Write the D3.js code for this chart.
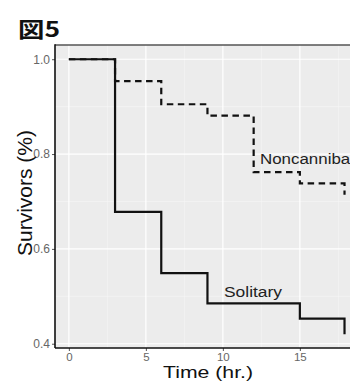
<!DOCTYPE html>
<html>
<head>
<meta charset="utf-8">
<script src="https://cdn.jsdelivr.net/npm/d3@7"></script>
<style>
  html, body { margin: 0; padding: 0; background: #fff; }
  svg { display: block; font-family: "Liberation Sans", Arial, sans-serif; }
</style>
</head>
<body>
<svg id="chart" width="350" height="383"></svg>
<script>
// survival curves (time in hr., fraction surviving)
const soloTimes = [0, 3, 6, 9, 15, 17.9];
const soloValues = [1.0, 0.678, 0.549, 0.485, 0.453, 0.42];
const nonTimes = [0, 3, 6, 9, 12, 15, 17.9];
const nonValues = [1.0, 0.954, 0.905, 0.881, 0.762, 0.738, 0.714];
const xTicks = [0, 5, 10, 15];
const xMinor = [2.5, 7.5, 12.5, 17.5];
const yTicks = [0.4, 0.6, 0.8, 1.0];
const yMinor = [0.5, 0.7, 0.9];

const svg = d3.select('#chart');
const pLeft = 55, pTop = 45, pRight = 363, pBottom = 348;

const x = d3.scaleLinear().domain([-0.9, 19.1]).range([pLeft, pRight]);
const y = d3.scaleLinear().domain([0.391, 1.030]).range([pBottom, pTop]);

// title
svg.append('text')
  .attr('x', 18).attr('y', 37)
  .attr('font-family', '"Noto Sans CJK JP", sans-serif')
  .attr('font-weight', 'bold')
  .attr('font-size', 21)
  .attr('fill', '#111')
  .attr('textLength', 42)
  .attr('lengthAdjust', 'spacingAndGlyphs')
  .text('図5');

// panel
svg.append('rect')
  .attr('x', pLeft).attr('y', pTop)
  .attr('width', pRight - pLeft).attr('height', pBottom - pTop)
  .attr('fill', '#ECECEC');

const grid = svg.append('g');
grid.selectAll('.xmin').data(xMinor).enter().append('line')
  .attr('x1', d => x(d)).attr('x2', d => x(d))
  .attr('y1', pTop).attr('y2', pBottom)
  .attr('stroke', '#f7f7f7').attr('stroke-width', 0.6);
grid.selectAll('.ymin').data(yMinor).enter().append('line')
  .attr('y1', d => y(d)).attr('y2', d => y(d))
  .attr('x1', pLeft).attr('x2', pRight)
  .attr('stroke', '#f7f7f7').attr('stroke-width', 0.6);
grid.selectAll('.xmaj').data(xTicks).enter().append('line')
  .attr('x1', d => x(d)).attr('x2', d => x(d))
  .attr('y1', pTop).attr('y2', pBottom)
  .attr('stroke', '#fff').attr('stroke-width', 1.2);
grid.selectAll('.ymaj').data(yTicks).enter().append('line')
  .attr('y1', d => y(d)).attr('y2', d => y(d))
  .attr('x1', pLeft).attr('x2', pRight)
  .attr('stroke', '#fff').attr('stroke-width', 1.2);

// curves
const line = d3.line()
  .x(d => x(d[0]))
  .y(d => y(d[1]))
  .curve(d3.curveStepAfter);

svg.append('path')
  .datum(d3.zip(nonTimes, nonValues))
  .attr('d', line)
  .attr('fill', 'none')
  .attr('stroke', '#111')
  .attr('stroke-width', 2.2)
  .attr('stroke-dasharray', '6.5,4.5');

svg.append('path')
  .datum(d3.zip(soloTimes, soloValues))
  .attr('d', line)
  .attr('fill', 'none')
  .attr('stroke', '#111')
  .attr('stroke-width', 2.2);

// labels on curves
svg.append('text')
  .attr('x', 260).attr('y', 164)
  .attr('font-size', 15.5)
  .attr('fill', '#222')
  .attr('textLength', 94)
  .attr('lengthAdjust', 'spacingAndGlyphs')
  .text('Noncannibal');

svg.append('text')
  .attr('x', 224).attr('y', 297)
  .attr('font-size', 15.5)
  .attr('fill', '#222')
  .attr('textLength', 58)
  .attr('lengthAdjust', 'spacingAndGlyphs')
  .text('Solitary');

// axes
const yAxis = svg.append('g')
  .attr('transform', `translate(${pLeft},0)`)
  .call(d3.axisLeft(y).tickValues(yTicks).tickSize(3).tickPadding(2)
    .tickFormat(d3.format('.1f')));
yAxis.select('.domain').remove();
yAxis.selectAll('line').attr('stroke', '#555');
yAxis.selectAll('text').attr('font-size', 12).attr('fill', '#666')
  .attr('font-family', '"Liberation Sans", Arial, sans-serif');

const xAxis = svg.append('g')
  .attr('transform', `translate(0,${pBottom})`)
  .call(d3.axisBottom(x).tickValues(xTicks).tickSize(3).tickPadding(1.5));
xAxis.select('.domain').remove();
xAxis.selectAll('line').attr('stroke', '#555');
xAxis.selectAll('text').attr('font-size', 11.5).attr('fill', '#666')
  .attr('font-family', '"Liberation Sans", Arial, sans-serif');

// panel border lines
svg.append('line')
  .attr('x1', pLeft).attr('x2', pRight).attr('y1', pTop).attr('y2', pTop)
  .attr('stroke', '#555').attr('stroke-width', 1.6);
svg.append('line')
  .attr('x1', pLeft).attr('x2', pLeft).attr('y1', pTop - 0.8).attr('y2', pBottom)
  .attr('stroke', '#111').attr('stroke-width', 1.6);
svg.append('line')
  .attr('x1', pLeft).attr('x2', pRight).attr('y1', pBottom).attr('y2', pBottom)
  .attr('stroke', '#111').attr('stroke-width', 1.6);

// axis titles
svg.append('text')
  .attr('x', 208).attr('y', 378)
  .attr('text-anchor', 'middle')
  .attr('font-size', 17)
  .attr('fill', '#111')
  .attr('textLength', 90)
  .attr('lengthAdjust', 'spacingAndGlyphs')
  .text('Time (hr.)');

svg.append('text')
  .attr('transform', 'translate(32,193) rotate(-90)')
  .attr('text-anchor', 'middle')
  .attr('font-size', 21)
  .attr('fill', '#111')
  .text('Survivors (%)');
</script>
</body>
</html>
